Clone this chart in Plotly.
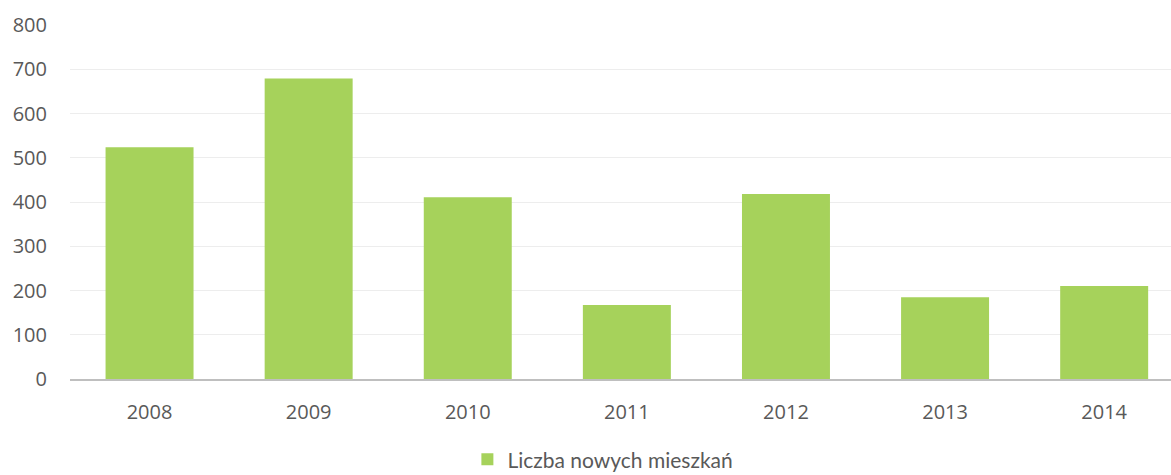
import plotly.graph_objects as go

years = ["2008", "2009", "2010", "2011", "2012", "2013", "2014"]
values = [524, 679, 411, 167, 418, 185, 210]
series_name = "Liczba nowych mieszkań"
y_ticks = [0, 100, 200, 300, 400, 500, 600, 700, 800]

fig = go.Figure()
fig.add_trace(go.Bar(
    x=years, y=values, name=series_name,
    marker=dict(color="#a6d25b", line=dict(width=0)),
    showlegend=True,
))

fig.update_layout(
    width=1171, height=475,
    margin=dict(l=70, r=0, t=25, b=96, autoexpand=False),
    paper_bgcolor="white", plot_bgcolor="white",
    bargap=0.447,
    font=dict(family="Open Sans", size=20, color="#595959"),
    showlegend=True,
    legend=dict(
        orientation="h", x=0.484, xanchor="center",
        yref="paper", y=-0.228, yanchor="middle",
        font=dict(family="Lato", size=21, color="#595959"),
        itemwidth=30,
    ),
    xaxis=dict(
        type="category", range=[-0.5, 6.42],
        showline=True, linecolor="#bfbfbf", linewidth=2,
        showgrid=False, ticks="", ticklabelstandoff=14,
        tickfont=dict(family="Open Sans", size=20, color="#595959"),
    ),
    yaxis=dict(
        range=[0, 800], tickvals=y_ticks,
        showgrid=True, gridcolor="#ededed", gridwidth=1,
        zeroline=False, showline=False, ticks="",
        ticklabelstandoff=22,
        tickfont=dict(family="Open Sans", size=20, color="#595959"),
    ),
)

fig.write_html(
    "out.html",
    config={"displayModeBar": False},
    post_script="document.body.style.margin='0';document.body.style.overflow='hidden';",
)
